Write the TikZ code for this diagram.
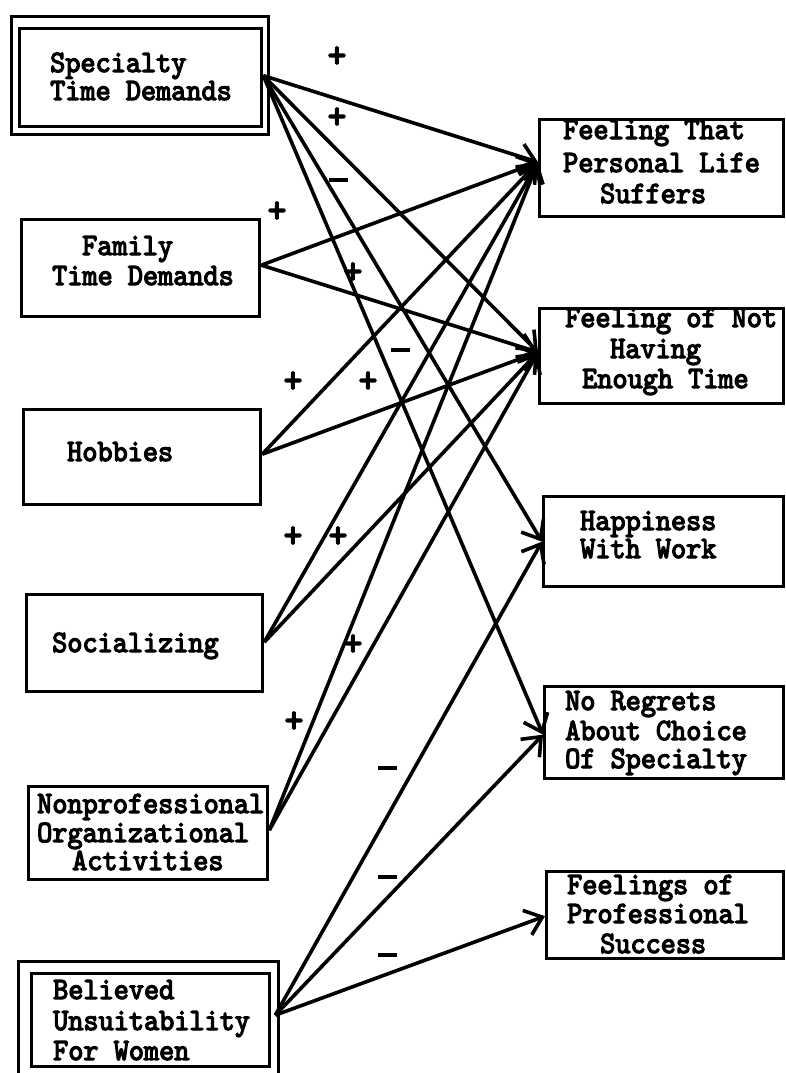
\documentclass[tikz,border=0pt]{standalone}
\usepackage{fontspec}
\usetikzlibrary{arrows.meta}
% heavy, slightly condensed typewriter face for all labels
\newfontfamily\tw{lmmono10-regular.otf}[FakeBold=4,FakeStretch=0.93]
\begin{document}
\begin{tikzpicture}[x=1pt,y=-1pt,
  box/.style={draw, line width=3.3pt, inner sep=0pt, anchor=north west},
  txt/.style={anchor=base west, inner sep=0pt,
    font=\tw\fontsize{31}{31}\selectfont},
  sign/.style={inner sep=0pt, font=\tw\fontsize{38}{38}\selectfont},
  conn/.style={line width=3.6pt,
    -{Straight Barb[length=16pt,width=26pt,line width=3.6pt]}}]
\useasboundingbox (0,0) rectangle (786,1073);

% ---- causes (left column) ----
\node[box, minimum width=257pt, minimum height=118pt] (specframe) at (10,15) {};
\node[box, minimum width=242pt, minimum height=98pt] (spec) at (18,27) {};
\node[txt] (spec1) at (50,72) {Specialty};
\node[txt] (spec2) at (50,100) {Time Demands};

\node[box, minimum width=238pt, minimum height=97pt] (fam) at (20,218) {};
\node[txt] (fam1) at (82,255) {Family};
\node[txt] (fam2) at (52,285) {Time Demands};

\node[box, minimum width=237pt, minimum height=95pt] (hob) at (22,408) {};
\node[txt] (hob1) at (67,461) {Hobbies};

\node[box, minimum width=236pt, minimum height=97pt] (soc) at (25,593) {};
\node[txt] (soc1) at (52,652) {Socializing};

\node[box, minimum width=239pt, minimum height=93pt] (org) at (27,785) {};
\node[txt] (org1) at (37,813) {Nonprofessional};
\node[txt] (org2) at (37,842) {Organizational};
\node[txt] (org3) at (72,870) {Activities};

\node[box, minimum width=260pt, minimum height=115pt] (belframe) at (17,960) {};
\node[box, minimum width=238pt, minimum height=93pt] (bel) at (30,972) {};
\node[txt] (bel1) at (53,999) {Believed};
\node[txt] (bel2) at (53,1030) {Unsuitability};
\node[txt] (bel3) at (53,1060) {For Women};

% ---- outcomes (right column) ----
\node[box, minimum width=244pt, minimum height=97pt] (suf) at (538,118) {};
\node[txt] (suf1) at (563,139) {Feeling That};
\node[txt] (suf2) at (563,172) {Personal Life};
\node[txt] (suf3) at (600,203) {Suffers};

\node[box, minimum width=244pt, minimum height=95pt] (tim) at (538,307) {};
\node[txt] (tim1) at (565,327) {Feeling of Not};
\node[txt] (tim2) at (610,358) {Having};
\node[txt] (tim3) at (582,388) {Enough Time};

\node[box, minimum width=240pt, minimum height=90pt] (hap) at (542,495) {};
\node[txt] (hap1) at (580,530) {Happiness};
\node[txt] (hap2) at (580,558) {With Work};

\node[box, minimum width=239pt, minimum height=92pt] (reg) at (543,685) {};
\node[txt] (reg1) at (565,710) {No Regrets};
\node[txt] (reg2) at (565,740) {About Choice};
\node[txt] (reg3) at (565,768) {Of Specialty};

\node[box, minimum width=237pt, minimum height=87pt] (suc) at (545,870) {};
\node[txt] (suc1) at (567,894) {Feelings of};
\node[txt] (suc2) at (567,923) {Professional};
\node[txt] (suc3) at (600,953) {Success};

% ---- connector end points ----
\coordinate (specout) at ([yshift=2pt]spec.east);
\coordinate (famout) at ([yshift=3pt]fam.east);
\coordinate (hobout) at ([yshift=3pt]hob.east);
\coordinate (socout) at ([yshift=1pt]soc.east);
\coordinate (orgout) at ([yshift=3pt]org.east);
\coordinate (belout) at ([xshift=4pt,yshift=5pt]bel.east);
\coordinate (sufin) at ([yshift=6pt]suf.west);
\coordinate (timin) at ([yshift=4pt]tim.west);
\coordinate (hapin) at (hap.west);
\coordinate (regin) at ([yshift=-2pt]reg.west);
\coordinate (sucin) at ([yshift=-1pt]suc.west);

% ---- causal paths ----
\draw[conn] (specout) -- (sufin);
\draw[conn] (specout) -- (timin);
\draw[conn] (specout) -- (hapin);
\draw[conn] (specout) -- (regin);
\draw[conn] (famout) -- (sufin);
\draw[conn] (famout) -- (timin);
\draw[conn] (hobout) -- (sufin);
\draw[conn] (hobout) -- (timin);
\draw[conn] (socout) -- (sufin);
\draw[conn] (socout) -- (timin);
\draw[conn] (orgout) -- (sufin);
\draw[conn] (orgout) -- (timin);
\draw[conn] (belout) -- (hapin);
\draw[conn] (belout) -- (regin);
\draw[conn] (belout) -- (sucin);

% ---- signs of the paths ----
\node[sign] (s1) at (337,57) {+};
\node[sign] (s2) at (337,118) {+};
\node[sign] (s3) at (338,180) {\rule{19pt}{3.2pt}};
\node[sign] (s4) at (277,212) {+};
\node[sign] (s5) at (353,273) {+};
\node[sign] (s6) at (400,350) {\rule{19pt}{3.2pt}};
\node[sign] (s7) at (293,382) {+};
\node[sign] (s8) at (368,382) {+};
\node[sign] (s9) at (293,537) {+};
\node[sign] (s10) at (338,537) {+};
\node[sign] (s11) at (353,645) {+};
\node[sign] (s12) at (294,722) {+};
\node[sign] (s13) at (387,768) {\rule{19pt}{3.2pt}};
\node[sign] (s14) at (387,877) {\rule{19pt}{3.2pt}};
\node[sign] (s15) at (387,955) {\rule{19pt}{3.2pt}};
\end{tikzpicture}
\end{document}
